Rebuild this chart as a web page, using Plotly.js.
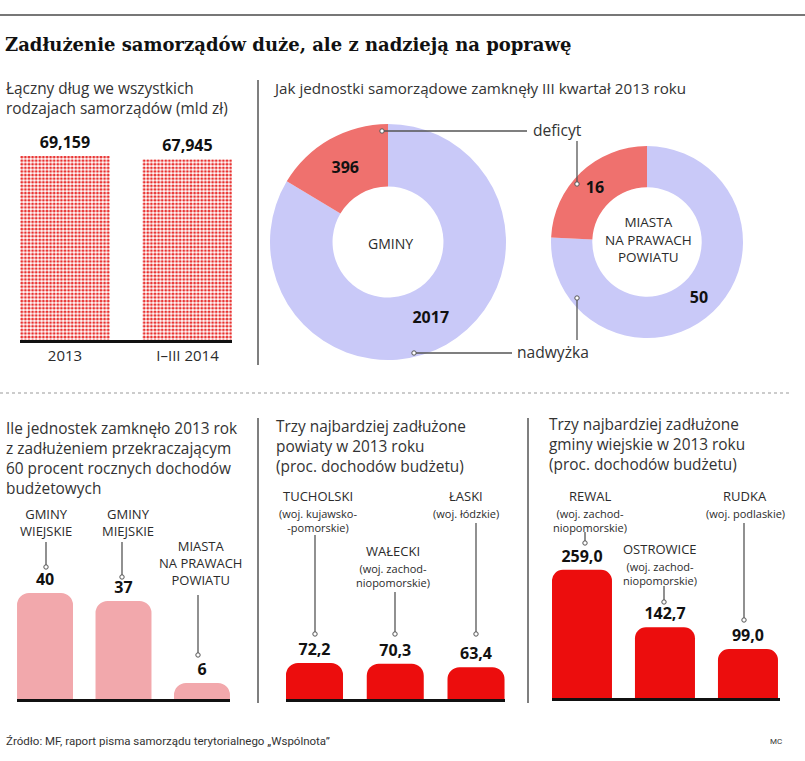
<!DOCTYPE html>
<html><head><meta charset="utf-8">
<script src="https://cdn.plot.ly/plotly-3.0.1.min.js"></script>
<style>html,body{margin:0;padding:0;background:#fff}</style>
</head><body><div id="chart" style="width:805px;height:761px"></div>
<script>
// ---------- data ----------
const debtPeriods = ['2013', 'I–III 2014'];
const debtValues = [69.159, 67.945];

// slice order: surplus first so that the deficit slice ends at 12 o'clock
const pieLabels = ['nadwyżka', 'deficyt'];
const gminyPie = [2017, 396];
const miastaPie = [50, 16];

const over60Cats = ['GMINY WIEJSKIE', 'GMINY MIEJSKIE', 'MIASTA NA PRAWACH POWIATU'];
const over60Lines = [['GMINY', 'WIEJSKIE'], ['GMINY', 'MIEJSKIE'], ['MIASTA', 'NA PRAWACH', 'POWIATU']];
const over60Values = [40, 37, 6];

const powiatyNames = ['TUCHOLSKI', 'WAŁECKI', 'ŁASKI'];
const powiatyRegions = [['(woj. kujawsko-', '-pomorskie)'], ['(woj. zachod-', 'niopomorskie)'], ['(woj. łódzkie)']];
const powiatyValues = [72.2, 70.3, 63.4];

const gminyNames = ['REWAL', 'OSTROWICE', 'RUDKA'];
const gminyRegions = [['(woj. zachod-', 'niopomorskie)'], ['(woj. zachod-', 'niopomorskie)'], ['(woj. podlaskie)']];
const gminyValues = [259.0, 142.7, 99.0];

// ---------- helpers ----------
const W = 805, H = 761;
const SANS = 'Open Sans, Noto Sans, sans-serif';
const SERIF = 'DejaVu Serif, serif';
const DARK = '#2b2b2b';
const fmt = (v, d) => v.toFixed(d).replace('.', ',');
const px = x => x / W, py = y => 1 - y / H;

function T(x, y, text, o = {}) {
  return {xref: 'paper', yref: 'paper', x: px(x), y: py(y), text: text, showarrow: false,
    xanchor: o.anchor || 'center', yanchor: o.yanchor || 'middle', align: o.align || 'center', borderpad: 0,
    font: {family: o.family || SANS, size: o.size || 14, color: o.color || DARK, weight: o.weight || 400}};
}
function L(x0, y0, x1, y1, o = {}) {
  return {type: 'line', xref: 'paper', yref: 'paper', x0: px(x0), y0: py(y0), x1: px(x1), y1: py(y1),
    line: {color: o.color || '#555', width: o.width || 1.3, dash: o.dash || 'solid'}, layer: 'above'};
}
function D(x, y, r = 2.2) {
  return {type: 'circle', xref: 'paper', yref: 'paper', x0: px(x - r), x1: px(x + r), y0: py(y + r), y1: py(y - r),
    fillcolor: '#fff', line: {color: '#555', width: 1}, layer: 'above'};
}
function xDom(a, b) { return [px(a), px(b)]; }
function yDom(top, base) { return [py(base), py(top)]; }

const numFont = {family: SANS, size: 16, color: '#111', weight: 700};

// ---------- traces ----------
const traces = [];
traces.push({type: 'bar', x: debtPeriods, y: debtValues, xaxis: 'x', yaxis: 'y', width: 0.735,
  text: debtValues.map(v => fmt(v, 3)), textposition: 'outside', textfont: numFont, constraintext: 'none',
  cliponaxis: false, hoverinfo: 'skip',
  marker: {color: '#fff', line: {width: 0}, pattern: {shape: '.', fgcolor: '#E8302E', bgcolor: '#fff', size: 3.6, solidity: 0.5}}});

const RED_P = '#EF716E', LAV = '#C9C9F8';
const pieCommon = {type: 'pie', labels: pieLabels, sort: false, direction: 'clockwise', rotation: 0,
  marker: {colors: [LAV, RED_P], line: {width: 0}}, textinfo: 'value', textposition: 'inside',
  insidetextorientation: 'horizontal', textfont: numFont, hoverinfo: 'skip', showlegend: false};
traces.push(Object.assign({}, pieCommon, {values: gminyPie, hole: 0.47,
  domain: {x: xDom(388 - 118, 388 + 118), y: yDom(242 - 118, 242 + 118)}}));
traces.push(Object.assign({}, pieCommon, {values: miastaPie, hole: 0.57,
  domain: {x: xDom(647 - 96, 647 + 96), y: yDom(242 - 96, 242 + 96)}}));

traces.push({type: 'bar', x: over60Cats, y: over60Values, xaxis: 'x2', yaxis: 'y2', width: 0.713,
  text: over60Values.map(v => String(v)), textposition: 'outside', textfont: numFont, constraintext: 'none',
  cliponaxis: false, hoverinfo: 'skip', marker: {color: '#F2A8AC', cornerradius: 12}});
traces.push({type: 'bar', x: powiatyNames, y: powiatyValues, xaxis: 'x3', yaxis: 'y3', width: 0.706,
  text: powiatyValues.map(v => fmt(v, 1)), textposition: 'outside', textfont: numFont, constraintext: 'none',
  cliponaxis: false, hoverinfo: 'skip', marker: {color: '#EC0D0D', cornerradius: 12}});
traces.push({type: 'bar', x: gminyNames, y: gminyValues, xaxis: 'x4', yaxis: 'y4', width: 0.723,
  text: gminyValues.map(v => fmt(v, 1)), textposition: 'outside', textfont: numFont, constraintext: 'none',
  cliponaxis: false, hoverinfo: 'skip', marker: {color: '#EC0D0D', cornerradius: 11}});

// ---------- axes ----------
function xa(dom, range, anchor, labels) {
  return {domain: dom, range: range, anchor: anchor, type: 'category', showline: true, linecolor: '#111', linewidth: 3,
    showgrid: false, zeroline: false, ticks: '', showticklabels: !!labels, fixedrange: true,
    tickfont: {family: SANS, size: 15, color: DARK}};
}
function ya(dom, range, anchor) { return {domain: dom, range: range, anchor: anchor, visible: false, fixedrange: true}; }

const layout = {
  width: W, height: H, margin: {l: 0, r: 0, t: 0, b: 0}, paper_bgcolor: '#fff', plot_bgcolor: 'rgba(0,0,0,0)',
  showlegend: false, hovermode: false,
  xaxis: xa(xDom(20, 232), [-0.367, 1.363], 'y', true), yaxis: ya(yDom(130, 340), [0, 210 / 2.6605], 'x'),
  xaxis2: xa(xDom(17, 230), [-0.357, 2.357], 'y2'), yaxis2: ya(yDom(560, 699), [0, 139 / 2.65], 'x2'),
  xaxis3: xa(xDom(286, 505), [-0.353, 2.359], 'y3'), yaxis3: ya(yDom(560, 699), [0, 139 / 0.5], 'x3'),
  xaxis4: xa(xDom(552, 780), [-0.361, 2.386], 'y4'), yaxis4: ya(yDom(540, 698), [0, 158 / 0.495], 'x4'),
  annotations: [], shapes: []
};
const A = layout.annotations, S = layout.shapes;

// frame lines
S.push(L(0, 15, 805, 15, {color: '#777', width: 2}));
S.push(L(258, 80, 258, 365, {color: '#555', width: 1.5}));
S.push(L(0, 393, 790, 393, {color: '#999', width: 1.2, dash: 'dot'}));
S.push(L(258, 418, 258, 703, {color: '#555', width: 1.5}));
S.push(L(528, 418, 528, 703, {color: '#555', width: 1.5}));

// title
A.push(T(4, 45, 'Zadłużenie samorządów duże, ale z nadzieją na poprawę', {anchor: 'left', family: SERIF, size: 18, weight: 700, color: '#111'}));

// panel subtitles (multi-line blocks, top-anchored)
const sub = {anchor: 'left', align: 'left', size: 15.4, color: '#333', yanchor: 'top'};
A.push(T(5, 77, 'Łączny dług we wszystkich<br>rodzajach samorządów (mld zł)', sub));
A.push(T(272, 77, 'Jak jednostki samorządowe zamknęły III kwartał 2013 roku', Object.assign({}, sub, {size: 15.2})));
A.push(T(5, 417, 'Ile jednostek zamknęło 2013 rok<br>z zadłużeniem przekraczającym<br>60 procent rocznych dochodów<br>budżetowych', sub));
A.push(T(275, 415, 'Trzy najbardziej zadłużone<br>powiaty w 2013 roku<br>(proc. dochodów budżetu)', sub));
A.push(T(548, 413, 'Trzy najbardziej zadłużone<br>gminy wiejskie w 2013 roku<br>(proc. dochodów budżetu)', sub));

// donut centre labels and callouts
A.push(T(390, 243, 'GMINY', {size: 14}));
A.push(T(648, 240, 'MIASTA<br>NA PRAWACH<br>POWIATU', {size: 13.5}));
A.push(T(532, 130, pieLabels[1], {anchor: 'left', size: 15.6, color: '#333'}));
A.push(T(516, 352, pieLabels[0], {anchor: 'left', size: 15.6, color: '#333'}));
S.push(L(382, 131, 527, 131)); S.push(D(382, 131));
S.push(L(577, 141, 577, 184)); S.push(D(577, 184));
S.push(L(414, 353, 512, 353)); S.push(D(414, 353));
S.push(L(577, 298, 577, 340)); S.push(D(577, 298));

// panel A category labels + leaders
const capA = {size: 13, color: DARK, yanchor: 'top'};
const aPos = [{x: 46, y: 504, lx: 46, l0: 542, l1: 567}, {x: 128, y: 504, lx: 122, l0: 542, l1: 577}, {x: 200, y: 536, lx: 198, l0: 595, l1: 655}];
over60Lines.forEach((lines, i) => {
  A.push(T(aPos[i].x, aPos[i].y, lines.join('<br>'), capA));
  S.push(L(aPos[i].lx, aPos[i].l0, aPos[i].lx, aPos[i].l1)); S.push(D(aPos[i].lx, aPos[i].l1));
});

// panel B
const regF = {size: 11, color: DARK, yanchor: 'top'};
const bPos = [{x: 318, y: 496, lx: 315, l0: 535, l1: 634}, {x: 393, y: 551, lx: 395, l0: 592, l1: 634}, {x: 466, y: 496, lx: 476, l0: 523, l1: 634}];
powiatyNames.forEach((n, i) => {
  A.push(T(bPos[i].x, bPos[i].y, n, {size: 13}));
  A.push(T(bPos[i].x, bPos[i].y + 9, powiatyRegions[i].join('<br>'), regF));
  S.push(L(bPos[i].lx, bPos[i].l0, bPos[i].lx, bPos[i].l1)); S.push(D(bPos[i].lx, bPos[i].l1));
});

// panel C
const cPos = [{x: 590, y: 496, lx: 585, l0: 532, l1: 543}, {x: 660, y: 549, lx: 664, l0: 586, l1: 602}, {x: 745, y: 496, lx: 744, l0: 523, l1: 620}];
gminyNames.forEach((n, i) => {
  A.push(T(cPos[i].x, cPos[i].y, n, {size: 13}));
  A.push(T(cPos[i].x, cPos[i].y + 9, gminyRegions[i].join('<br>'), regF));
  S.push(L(cPos[i].lx, cPos[i].l0, cPos[i].lx, cPos[i].l1)); S.push(D(cPos[i].lx, cPos[i].l1));
});

// footer
A.push(T(5, 741, 'Źródło: MF, raport pisma samorządu terytorialnego „Wspólnota”', {anchor: 'left', size: 11.5, color: '#333', family: 'Roboto, sans-serif'}));
A.push(T(776, 741, 'MC', {size: 8, color: '#333', family: 'Roboto, sans-serif'}));

Plotly.newPlot('chart', traces, layout, {displayModeBar: false, staticPlot: true});
</script></body></html>
